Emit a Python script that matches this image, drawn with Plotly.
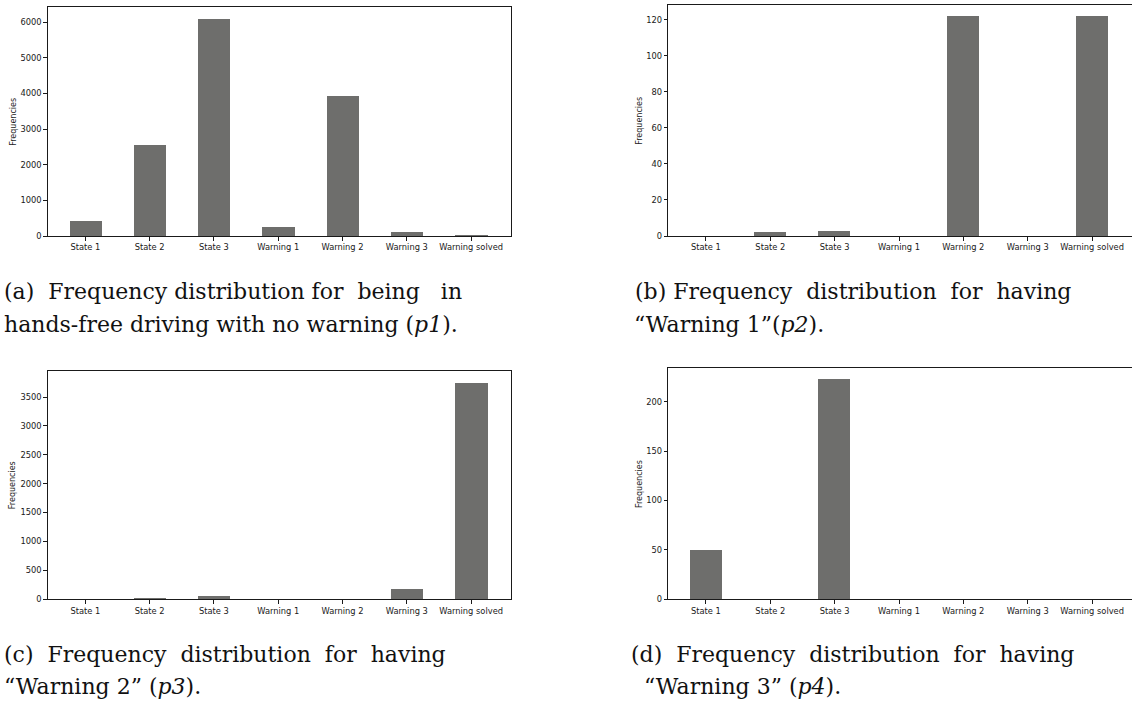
import plotly.graph_objects as go

W, H = 1132, 709

categories = ["State 1", "State 2", "State 3", "Warning 1", "Warning 2", "Warning 3", "Warning solved"]

p1_values = [410, 2554, 6092, 242, 3919, 103, 3]
p2_values = [0, 2, 3, 0, 122, 0, 122]
p3_values = [2, 17, 57, 0, 0, 177, 3757]
p4_values = [49, 0, 223, 0, 0, 0, 0]

p1_ticks = [0, 1000, 2000, 3000, 4000, 5000, 6000]
p2_ticks = [0, 20, 40, 60, 80, 100, 120]
p3_ticks = [0, 500, 1000, 1500, 2000, 2500, 3000, 3500]
p4_ticks = [0, 50, 100, 150, 200]

y_title = "Frequencies"

captions = [
    ["(a)\u00a0 Frequency distribution for\u00a0 being\u00a0\u00a0 in",
     "hands-free driving with no warning (<i>p1</i>)."],
    ["(b) Frequency\u00a0 distribution\u00a0 for\u00a0 having",
     "\u201cWarning 1\u201d(<i>p2</i>)."],
    ["(c)\u00a0 Frequency\u00a0 distribution\u00a0 for\u00a0 having",
     "\u201cWarning 2\u201d (<i>p3</i>)."],
    ["(d)\u00a0 Frequency\u00a0 distribution\u00a0 for\u00a0 having",
     "\u201cWarning 3\u201d (<i>p4</i>)."],
]

BAR = "#6e6e6c"
LINE = "#1a1a1a"
TICKFONT = dict(family="DejaVu Sans", size=8.3, color="#1a1a1a")
TITLEFONT = dict(family="DejaVu Sans", size=8, color="#1a1a1a")
CAPFONT = dict(family="DejaVu Serif", size=22, color="#111111")

# panel geometry in pixels: (left, right, top, bottom)
panels = [
    (47.7, 511.0, 7.0, 237.7),
    (668.3, 1132.0, 5.0, 237.7),
    (47.7, 511.0, 373.3, 603.3),
    (668.3, 1132.0, 371.0, 603.3),
]
yranges = [6425, 128.2, 3959, 234]
values = [p1_values, p2_values, p3_values, p4_values]
ticks = [p1_ticks, p2_ticks, p3_ticks, p4_ticks]
ytitle_x = [13.3, 639.3, 13.3, 639.3]
cap_pos = [
    [(2, 294), (2, 327)],
    [(633, 294), (632, 327)],
    [(2, 659), (2, 691)],
    [(629, 659), (642, 691)],
]

fig = go.Figure()
xcats = list(range(len(categories)))
annotations = []
for i in range(4):
    l, r, t, b = panels[i]
    sfx = "" if i == 0 else str(i + 1)
    fig.add_trace(go.Bar(
        x=xcats, y=values[i], width=0.5, marker=dict(color=BAR, line=dict(width=0)),
        xaxis="x" + sfx, yaxis="y" + sfx, showlegend=False, hoverinfo="x+y"))
    right_panel = i in (1, 3)
    fig.update_layout(**{
        "xaxis" + sfx: dict(
            domain=[l / W, r / W], range=[-0.585, 6.62], anchor="y" + sfx,
            tickmode="array", tickvals=xcats, ticktext=categories,
            ticks="outside", ticklen=3.5, tickwidth=1, tickcolor=LINE,
            showline=True, linecolor=LINE, linewidth=1, mirror=True,
            showgrid=False, zeroline=False, tickfont=TICKFONT, tickangle=0,
            fixedrange=True),
        "yaxis" + sfx: dict(
            domain=[1 - b / H, 1 - t / H], range=[0, yranges[i]], anchor="x" + sfx,
            tickmode="array", tickvals=ticks[i], ticktext=[str(v) for v in ticks[i]],
            ticks="outside", ticklen=3.5, tickwidth=1, tickcolor=LINE,
            showline=True, linecolor=LINE, linewidth=1, mirror=(not right_panel),
            showgrid=False, zeroline=False, tickfont=TICKFONT,
            fixedrange=True),
    })
    annotations.append(dict(
        text=y_title, textangle=-90, x=ytitle_x[i] / W, y=1 - ((t + b) / 2) / H,
        xref="paper", yref="paper", xanchor="center", yanchor="middle",
        showarrow=False, font=TITLEFONT))
    for j, line in enumerate(captions[i]):
        cx, cy = cap_pos[i][j]
        annotations.append(dict(
            text=line, x=cx / W, y=1 - cy / H, xref="paper", yref="paper",
            xanchor="left", yanchor="middle", showarrow=False, font=CAPFONT))

fig.update_layout(
    width=W, height=H, margin=dict(l=0, r=0, t=0, b=0),
    paper_bgcolor="white", plot_bgcolor="white",
    annotations=annotations, bargap=0,
)

fig.write_html("out.html", config={"displayModeBar": False})
